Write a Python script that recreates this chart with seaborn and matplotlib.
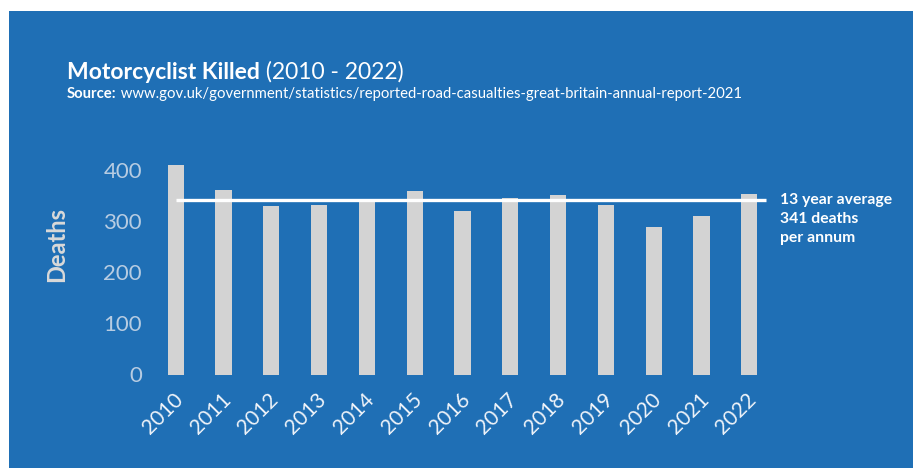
import matplotlib
matplotlib.use("Agg")
import matplotlib.pyplot as plt
import matplotlib.transforms as mtransforms
import seaborn as sns
import pandas as pd
import numpy as np
from matplotlib.patches import Rectangle

years = ["2010", "2011", "2012", "2013", "2014", "2015", "2016",
         "2017", "2018", "2019", "2020", "2021", "2022"]
deaths = [409, 361, 330, 332, 342, 359, 319, 345, 350, 332, 288, 309, 353]
y_ticks = [0, 100, 200, 300, 400]

title_bold = "Motorcyclist Killed"
title_light = " (2010 - 2022)"
source_bold = "Source:"
source_url = " www.gov.uk/government/statistics/reported-road-casualties-great-britain-annual-report-2021"

BLUE = "#1f6fb5"
BAR = "#d3d3d3"
FONT = ["Lato", "DejaVu Sans"]

sns.set_theme(style="white")
plt.rcParams["font.family"] = FONT

W, H = 913, 468
fig = plt.figure(figsize=(W / 100, H / 100), dpi=100, facecolor="white")
fig.patches.append(Rectangle((9 / W, 0), 1 - 9 / W, 1 - 11 / H,
                             transform=fig.transFigure, facecolor=BLUE,
                             edgecolor="none", zorder=-10))

ax = fig.add_axes([151.8 / W, (H - 374.5) / H, 621.4 / W, 214.9 / H])
ax.set_facecolor("none")

df = pd.DataFrame({"year": years, "deaths": deaths})
sns.barplot(data=df, x="year", y="deaths", color=BAR, width=0.335,
            saturation=1, ax=ax, edgecolor="none")

avg = round(float(np.mean(deaths)))
ax.plot([0, 12.35], [avg, avg], color="white", lw=2.4, solid_capstyle="butt",
        zorder=5)

ax.set_xlim(-0.5, 12.5)
ax.set_ylim(0, 420)
ax.set_yticks(y_ticks)
ax.set_yticklabels([str(t) for t in y_ticks], color="#b7cce2", fontsize=16,
                   fontweight="normal")
ax.tick_params(axis="y", length=0, pad=7)
ax.tick_params(axis="x", length=0, pad=16)
xoff = mtransforms.ScaledTranslation(3 / 72, 0, fig.dpi_scale_trans)
for lab in ax.get_xticklabels():
    lab.set_rotation(45)
    lab.set_ha("right")
    lab.set_va("center")
    lab.set_rotation_mode("anchor")
    lab.set_color("#eef3f9")
    lab.set_fontsize(15)
    lab.set_transform(lab.get_transform() + xoff)
for s in ax.spines.values():
    s.set_visible(False)
ax.set_xlabel("")
ax.set_ylabel("Deaths", color="#d9d9d9", fontsize=17, fontweight="bold")
ax.yaxis.set_label_coords(-(151.8 - 68) / 621.4, (374.5 - 245) / 214.9)

note_lines = ["13 year average", f"{avg} deaths", "per annum"]
note_offsets = [0, -18.5, -38]
for line, off in zip(note_lines, note_offsets):
    ax.annotate(line, xy=(12.65, avg), xycoords="data",
                xytext=(0, off * 0.72), textcoords="offset points",
                color="white", fontsize=11.3, fontweight="bold",
                ha="left", va="center", annotation_clip=False)

fig.canvas.draw()
renderer = fig.canvas.get_renderer()
t1 = fig.text(67 / W, 1 - 79 / H, title_bold, color="white", fontsize=16.5,
              fontweight="bold", ha="left", va="baseline")
bb = t1.get_window_extent(renderer)
fig.text(bb.x1 / W, 1 - 79 / H, title_light, color="white", fontsize=16.5,
         fontweight="normal", ha="left", va="baseline")
t2 = fig.text(67 / W, 1 - 98 / H, source_bold, color="white", fontsize=10.7,
              fontweight="bold", ha="left", va="baseline")
bb2 = t2.get_window_extent(renderer)
fig.text(bb2.x1 / W, 1 - 98 / H, source_url, color="white", fontsize=10.7,
         fontweight="normal", ha="left", va="baseline")

fig.savefig("out.png", dpi=100, facecolor=fig.get_facecolor())
